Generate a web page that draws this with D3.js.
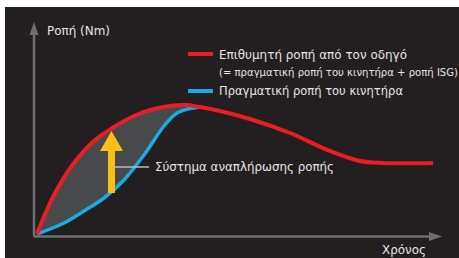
<!DOCTYPE html>
<html lang="el">
<head>
<meta charset="utf-8">
<title>Ροπή - Χρόνος</title>
<script src="https://d3js.org/d3.v7.min.js"></script>
<style>
	body { margin: 0; background: #fff; }
	svg text { font-family: "DejaVu Sans Condensed", "Liberation Sans Narrow", sans-serif; fill: #e4e4e4; }
</style>
</head>
<body>
<script>
// Time (0-100) vs torque (0-100)
var redX  = [0, 4.25, 9.25, 14.25, 19.25, 24.25, 29.25, 36.75, 40.75, 45.75, 53.25, 63.25, 73.25, 80.75, 86.5, 99];
var redY  = [0, 19.5, 35.5, 46.5, 53.5, 59, 62.5, 64.5, 63.5, 61.5, 57.5, 50.5, 41.5, 36.5, 35.5, 35.5];
var blueX = [0, 6.75, 11.75, 16.75, 21.75, 26.75, 31.75, 35, 38.25, 40.75];
var blueY = [0, 5.5, 11.5, 18, 27, 39.5, 54, 60.5, 62.75, 63.5];

var labels = {
	yAxis: "Ροπή (Nm)",
	xAxis: "Χρόνος",
	red: "Επιθυμητή ροπή από τον οδηγό",
	redSub: "(= πραγματική ροπή του κινητήρα + ροπή ISG)",
	blue: "Πραγματική ροπή του κινητήρα",
	fill: "Σύστημα αναπλήρωσης ροπής"
};

var width = 459, height = 258;
var bg = "#231f20";
var redData = redX.map(function(x, i) { return [x, redY[i]]; });
var blueData = blueX.map(function(x, i) { return [x, blueY[i]]; });
var mergeX = blueX[blueX.length - 1];

var svg = d3.select("body").append("svg")
	.attr("width", width)
	.attr("height", height);

// dark panel
svg.append("rect")
	.attr("x", 5).attr("y", 7)
	.attr("width", width - 5).attr("height", height - 7)
	.attr("fill", bg);

var xScale = d3.scaleLinear().domain([0, 100]).range([37, 437]);
var yScale = d3.scaleLinear().domain([0, 100]).range([234, 34]);

var curve = d3.curveCatmullRom.alpha(0.5);

var line = d3.line()
	.x(function(d) { return xScale(d[0]); })
	.y(function(d) { return yScale(d[1]); })
	.curve(curve);

var area = d3.area()
	.x(function(d) { return xScale(d[0]); })
	.y0(yScale(0))
	.y1(function(d) { return yScale(d[1]); })
	.curve(curve);

// gap between the two curves: gray under red, then background under blue
svg.append("path")
	.attr("d", area(redData.filter(function(d) { return d[0] <= mergeX; })))
	.attr("fill", "#48494b");
svg.append("path")
	.attr("d", area(blueData))
	.attr("fill", bg);

// axes
var axisColor = "#6d6e70";
svg.append("line")
	.attr("x1", 34).attr("y1", 236.5)
	.attr("x2", 34).attr("y2", 32)
	.attr("stroke", axisColor).attr("stroke-width", 2.5);
svg.append("line")
	.attr("x1", 34).attr("y1", 236.5)
	.attr("x2", 432).attr("y2", 236.5)
	.attr("stroke", axisColor).attr("stroke-width", 2.5);
svg.append("path")
	.attr("d", "M34,22 L38.5,35 L29.5,35 Z")
	.attr("fill", axisColor);
svg.append("path")
	.attr("d", "M442,236.5 L429,232 L429,241 Z")
	.attr("fill", axisColor);

// curves
svg.append("path")
	.attr("d", line(blueData))
	.attr("fill", "none")
	.attr("stroke", "#19ace4")
	.attr("stroke-width", 3.5);
svg.append("path")
	.attr("d", line(redData))
	.attr("fill", "none")
	.attr("stroke", "#ea1c24")
	.attr("stroke-width", 4);

// yellow arrow
var ax = 111.5;
svg.append("path")
	.attr("d", "M" + (ax - 3.5) + ",193 L" + (ax - 3.5) + ",151" +
		" L" + (ax - 11.5) + ",151 L" + ax + ",131 L" + (ax + 11.5) + ",151 L" + (ax + 3.5) + ",151 L" + (ax + 3.5) + ",193 Z")
	.attr("fill", "#fbbf15");

// leader line + label
svg.append("line")
	.attr("x1", ax + 1).attr("y1", 167)
	.attr("x2", 149).attr("y2", 167)
	.attr("stroke", "#bdbdbd").attr("stroke-width", 1.5);
svg.append("text")
	.attr("x", 155).attr("y", 170.5)
	.attr("font-size", 12.5)
	.attr("textLength", 179).attr("lengthAdjust", "spacingAndGlyphs")
	.text(labels.fill);

// axis titles
svg.append("text")
	.attr("x", 47).attr("y", 34.5)
	.attr("font-size", 13)
	.attr("textLength", 63).attr("lengthAdjust", "spacingAndGlyphs")
	.text(labels.yAxis);
svg.append("text")
	.attr("x", 382).attr("y", 254)
	.attr("font-size", 13)
	.attr("textLength", 44).attr("lengthAdjust", "spacingAndGlyphs")
	.text(labels.xAxis);

// legend
svg.append("line")
	.attr("x1", 188).attr("y1", 54).attr("x2", 213).attr("y2", 54)
	.attr("stroke", "#ea1c24").attr("stroke-width", 4);
svg.append("text")
	.attr("x", 219).attr("y", 58.5)
	.attr("font-size", 12.5)
	.attr("textLength", 188).attr("lengthAdjust", "spacingAndGlyphs")
	.text(labels.red);
svg.append("text")
	.attr("x", 219).attr("y", 76)
	.attr("font-size", 11)
	.attr("textLength", 239).attr("lengthAdjust", "spacingAndGlyphs")
	.text(labels.redSub);
svg.append("line")
	.attr("x1", 188).attr("y1", 91).attr("x2", 213).attr("y2", 91)
	.attr("stroke", "#19ace4").attr("stroke-width", 4);
svg.append("text")
	.attr("x", 219).attr("y", 95)
	.attr("font-size", 12.5)
	.attr("textLength", 184).attr("lengthAdjust", "spacingAndGlyphs")
	.text(labels.blue);
</script>
</body>
</html>
